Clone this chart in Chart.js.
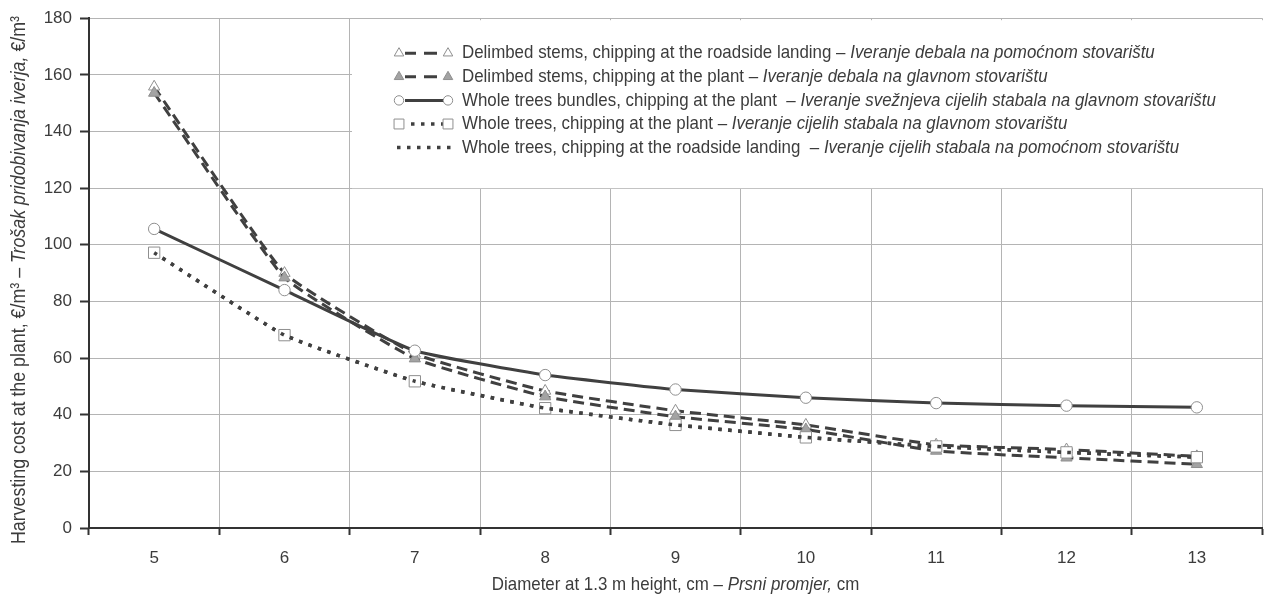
<!DOCTYPE html>
<html>
<head>
<meta charset="utf-8">
<title>Harvesting cost</title>
<script src="https://cdn.jsdelivr.net/npm/chart.js"></script>
<style>
  html, body { margin: 0; padding: 0; background: #fff; }
  canvas { display: block; }
</style>
</head>
<body>
<canvas id="myChart" width="1264" height="600"></canvas>
<script>
// diameter classes, cm
const diameters = ['5', '6', '7', '8', '9', '10', '11', '12', '13'];
// harvesting cost, €/m3
const delimbedRoadside = [155.8, 90.0, 61.5, 48.4, 41.4, 36.4, 29.4, 27.7, 25.3];
const delimbedPlant = [153.6, 88.4, 59.8, 46.4, 39.3, 34.8, 27.2, 24.8, 22.5];
const bundlesPlant = [105.6, 84.0, 62.6, 54.0, 48.9, 46.0, 44.1, 43.2, 42.6];
const wholePlant = [97.2, 68.1, 51.8, 42.3, 36.4, 32.0, 28.8, 26.7, 25.0];
const wholeRoadside = [97.2, 68.1, 51.8, 42.3, 36.4, 32.0, 28.8, 26.7, 25.0];

const yTicks = [0, 20, 40, 60, 80, 100, 120, 140, 160, 180];

const legendText = [
  ['Delimbed stems, chipping at the roadside landing – ', 'Iveranje debala na pomoćnom stovarištu'],
  ['Delimbed stems, chipping at the plant – ', 'Iveranje debala na glavnom stovarištu'],
  ['Whole trees bundles, chipping at the plant  – ', 'Iveranje svežnjeva cijelih stabala na glavnom stovarištu'],
  ['Whole trees, chipping at the plant – ', 'Iveranje cijelih stabala na glavnom stovarištu'],
  ['Whole trees, chipping at the roadside landing  – ', 'Iveranje cijelih stabala na pomoćnom stovarištu']
];

const FONT = "'Liberation Sans Narrow', 'Liberation Sans', Arial, sans-serif";
const TXT = '#3c3c3c';
const LINE = '#404040';
const MARK = '#8f8f8f';
const SQUEEZE = 0.89; // the original text is a narrow face

function drawRich(ctx, parts, x, y, size) {
  ctx.save();
  ctx.translate(x, y);
  ctx.scale(SQUEEZE, 1);
  let cx = 0;
  parts.forEach(p => {
    ctx.font = (p[1] ? 'italic ' : '') + size + 'px ' + FONT;
    ctx.fillText(p[0], cx, 0);
    cx += ctx.measureText(p[0]).width;
  });
  ctx.restore();
}
function richWidth(ctx, parts, size) {
  let w = 0;
  parts.forEach(p => {
    ctx.font = (p[1] ? 'italic ' : '') + size + 'px ' + FONT;
    w += ctx.measureText(p[0]).width;
  });
  return w * SQUEEZE;
}

const extras = {
  id: 'extras',
  beforeDatasetsDraw(chart) {
    const a = chart.chartArea;
    const ctx = chart.ctx;
    ctx.save();
    ctx.fillStyle = '#fff';
    ctx.fillRect(a.left + 263, a.top + 2, a.right - a.left - 262, 168);
    ctx.restore();
  },
  afterDraw(chart) {
    const a = chart.chartArea;
    const ctx = chart.ctx;
    ctx.save();
    ctx.fillStyle = TXT;
    ctx.textBaseline = 'middle';
    ctx.textAlign = 'left';

    // legend
    const x1 = a.left + 310, x2 = a.left + 359, tx = a.left + 373;
    chart.data.datasets.forEach((ds, i) => {
      const y = a.top + 35 + i * 23.6;
      ctx.save();
      ctx.strokeStyle = ds.borderColor;
      ctx.lineWidth = ds.borderWidth;
      ctx.beginPath();
      if (ds.pointRadius > 0 && ds.borderDash && ds.borderDash[0] > 5) {
        ctx.setLineDash([11, 8, 40]);
        ctx.moveTo(x1 + 6, y);
        ctx.lineTo(x2 - 11, y);
      } else if (ds.pointRadius > 0) {
        ctx.setLineDash(ds.borderDash || []);
        ctx.lineDashOffset = ds.borderDash ? -6 : 0;
        ctx.moveTo(x1 + 6, y);
        ctx.lineTo(x2 - 5, y);
      } else {
        ctx.setLineDash(ds.borderDash);
        ctx.moveTo(x1 - 2, y);
        ctx.lineTo(x2 + 4, y);
      }
      ctx.stroke();
      ctx.restore();
      if (ds.pointRadius > 0) {
        [x1, x2].forEach(px => {
          ctx.save();
          ctx.fillStyle = ds.pointBackgroundColor;
          ctx.strokeStyle = ds.pointBorderColor;
          ctx.lineWidth = ds.pointBorderWidth;
          Chart.helpers.drawPoint(ctx, {
            pointStyle: ds.pointStyle, radius: ds.pointRadius - 1,
            rotation: 0, borderWidth: ds.pointBorderWidth
          }, px, y);
          ctx.restore();
        });
      }
      ctx.fillStyle = TXT;
      drawRich(ctx, [[legendText[i][0], false], [legendText[i][1], true]], tx, y, 19);
    });

    // x title
    const xt = [['Diameter at 1.3 m height, cm – ', false], ['Prsni promjer,', true], [' cm', false]];
    const xw = richWidth(ctx, xt, 19);
    drawRich(ctx, xt, (a.left + a.right) / 2 - xw / 2, 585, 19);

    // y title
    const yt = [['Harvesting cost at the plant, €/m³ – ', false], ['Trošak pridobivanja iverja,', true], [' €/m³', false]];
    const yw = richWidth(ctx, yt, 20);
    ctx.translate(19, 280);
    ctx.rotate(-Math.PI / 2);
    drawRich(ctx, yt, -yw / 2, 0, 20);
    ctx.restore();
  }
};

const ctx = document.getElementById('myChart').getContext('2d');
new Chart(ctx, {
  type: 'line',
  data: {
    labels: diameters,
    datasets: [
      {
        label: legendText[0][0], data: delimbedRoadside, order: 5,
        borderColor: LINE, borderWidth: 3, borderDash: [11, 6],
        pointStyle: 'triangle', pointRadius: 6.5, pointBorderWidth: 1,
        pointBackgroundColor: '#fff', pointBorderColor: MARK, tension: 0.12
      },
      {
        label: legendText[1][0], data: delimbedPlant, order: 4,
        borderColor: LINE, borderWidth: 3, borderDash: [11, 6],
        pointStyle: 'triangle', pointRadius: 6.5, pointBorderWidth: 1,
        pointBackgroundColor: '#a3a3a3', pointBorderColor: MARK, tension: 0.12
      },
      {
        label: legendText[2][0], data: bundlesPlant, order: 3,
        borderColor: LINE, borderWidth: 3,
        pointStyle: 'circle', pointRadius: 5.7, pointBorderWidth: 1,
        pointBackgroundColor: '#fff', pointBorderColor: MARK, tension: 0.12
      },
      {
        label: legendText[3][0], data: wholePlant, order: 2,
        borderColor: LINE, borderWidth: 3.5, borderDash: [3.5, 6.5],
        pointStyle: 'rect', pointRadius: 8, pointBorderWidth: 1,
        pointBackgroundColor: '#fff', pointBorderColor: MARK, tension: 0.12
      },
      {
        label: legendText[4][0], data: wholeRoadside, order: 1,
        borderColor: LINE, borderWidth: 3.5, borderDash: [3.5, 6.5],
        pointRadius: 0, tension: 0.12
      }
    ]
  },
  options: {
    responsive: false,
    animation: false,
    layout: { autoPadding: false, padding: { top: 17, right: 2, left: 0, bottom: 0 } },
    plugins: { legend: { display: false }, tooltip: { enabled: false } },
    scales: {
      x: {
        offset: true,
        grid: { offset: true, color: '#b4b4b4', lineWidth: 1, tickLength: 7, tickColor: '#333', tickWidth: 2 },
        border: { color: '#333', width: 2 },
        ticks: { color: TXT, font: { family: FONT, size: 17 }, padding: 13, maxRotation: 0 },
        afterFit: s => { s.height = 72; s.paddingLeft = 0; s.paddingRight = 0; }
      },
      y: {
        min: 0, max: 180,
        afterBuildTicks: s => { s.ticks = yTicks.map(v => ({ value: v })); },
        grid: { color: '#b4b4b4', lineWidth: 1, tickLength: 9, tickColor: '#333', tickWidth: 2 },
        border: { color: '#333', width: 2 },
        ticks: { color: TXT, font: { family: FONT, size: 17 }, padding: 8 },
        afterFit: s => { s.width = 89; }
      }
    }
  },
  plugins: [extras]
});
</script>
</body>
</html>
